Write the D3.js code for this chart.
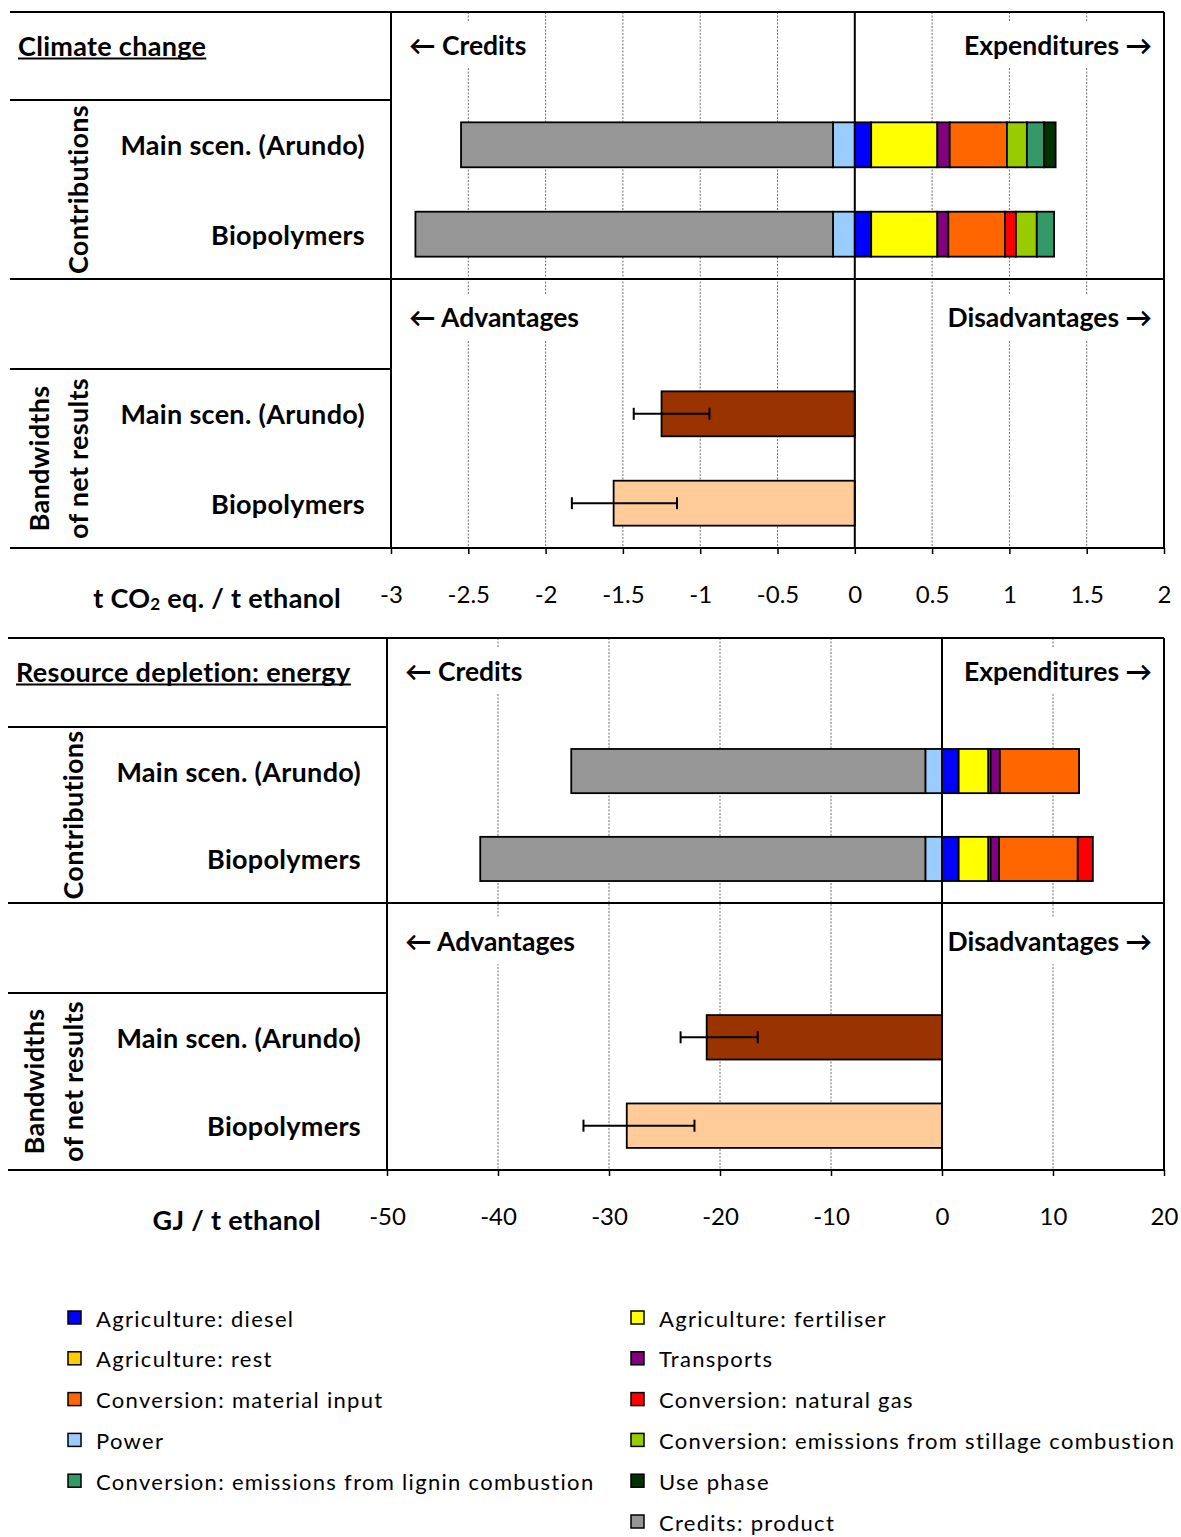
<!DOCTYPE html>
<html>
<head>
<meta charset="utf-8">
<script src="https://cdn.jsdelivr.net/npm/d3@7"></script>
<style>
  body { margin: 0; background: #fff; }
  svg { display: block; }
  text { font-family: Lato, "Open Sans", sans-serif; fill: #000; }
</style>
</head>
<body>
<svg id="chart" width="1181" height="1537"></svg>
<script>
// ---- data ----
const seriesNames = [
  "Agriculture: diesel",
  "Agriculture: fertiliser",
  "Agriculture: rest",
  "Transports",
  "Conversion: material input",
  "Conversion: natural gas",
  "Power",
  "Conversion: emissions from stillage combustion",
  "Conversion: emissions from lignin combustion",
  "Use phase",
  "Credits: product"
];
const seriesColors = [
  "#0000FF", "#FFFF00", "#FFCC00", "#800080", "#FF6600", "#FF0000",
  "#99CCFF", "#99CC00", "#339966", "#003300", "#969696"
];
const scenarios = ["Main scen. (Arundo)", "Biopolymers"];
const netColors = ["#993300", "#FFCC99"];

// Climate change, t CO2 eq. / t ethanol (same order as seriesNames)
const climateMain = [0.106, 0.428, 0, 0.08, 0.37, 0, -0.141, 0.129, 0.112, 0.074, -2.406];
const climateBio  = [0.106, 0.428, 0, 0.071, 0.366, 0.071, -0.141, 0.135, 0.112, 0, -2.701];
const climateNet     = [-1.25, -1.56];
const climateNetLow  = [-1.43, -1.83];
const climateNetHigh = [-0.94, -1.15];
const climateTicks = [-3, -2.5, -2, -1.5, -1, -0.5, 0, 0.5, 1, 1.5, 2];

// Resource depletion: energy, GJ / t ethanol
const energyMain = [1.5, 2.68, 0.2, 0.83, 7.14, 0, -1.5, 0, 0, 0, -31.9];
const energyBio  = [1.5, 2.68, 0.2, 0.76, 7.09, 1.36, -1.5, 0, 0, 0, -40.1];
const energyNet     = [-21.2, -28.4];
const energyNetLow  = [-23.55, -32.3];
const energyNetHigh = [-16.6, -22.3];
const energyTicks = [-50, -40, -30, -20, -10, 0, 10, 20];

// legend laid out in two columns, row by row; null leaves a slot empty
const legendOrder = [
  "Agriculture: diesel", "Agriculture: fertiliser",
  "Agriculture: rest", "Transports",
  "Conversion: material input", "Conversion: natural gas",
  "Power", "Conversion: emissions from stillage combustion",
  "Conversion: emissions from lignin combustion", "Use phase",
  null, "Credits: product"
];

// ---- drawing ----
const svg = d3.select("#chart");
const color = d3.scaleOrdinal().domain(seriesNames).range(seriesColors);
const BOLD = 27, BOLD_LS = 0.3;

function boldText(sel) {
  return sel.attr("font-size", BOLD).attr("font-weight", 700).attr("letter-spacing", BOLD_LS);
}

function labelWithBackground(g, text, x, y, anchor) {
  const t = g.append("text")
    .attr("x", x).attr("y", y)
    .attr("text-anchor", anchor)
    .attr("dominant-baseline", "central")
    .attr("font-size", 26.5).attr("font-weight", 700)
    .text(text);
  const b = t.node().getBBox();
  g.insert("rect", () => t.node())
    .attr("x", b.x - 5).attr("y", b.y - 7)
    .attr("width", b.width + 10).attr("height", b.height + 14)
    .attr("fill", "#fff");
}

function drawPanel(o) {
  const g = svg.append("g");
  const x = d3.scaleLinear().domain([o.ticks[0], o.ticks[o.ticks.length - 1]]).range([o.xPlot, o.xRight]);

  const yContrib = d3.scaleBand().domain(scenarios).range([o.yHead, o.yMid])
    .paddingInner(0.497).paddingOuter(0.25);
  const yNet = d3.scaleBand().domain(scenarios).range([o.yBand, o.yBot])
    .paddingInner(0.497).paddingOuter(0.25);

  // dotted grid
  g.append("g").selectAll("line")
    .data(o.ticks.filter((d, i) => d !== 0 && i > 0 && i < o.ticks.length - 1))
    .join("line")
    .attr("x1", d => x(d)).attr("x2", d => x(d))
    .attr("y1", o.y0).attr("y2", o.yBot)
    .attr("stroke", "#707070").attr("stroke-width", 1)
    .attr("stroke-dasharray", "2,1.5");

  // direction labels
  const hl = g.append("g");
  labelWithBackground(hl, "\u2190 " + o.leftHead[0], o.xPlot + 18, o.y0 + 33, "start");
  labelWithBackground(hl, o.rightHead[0] + " \u2192", o.xRight - 12, o.y0 + 33, "end");
  labelWithBackground(hl, "\u2190 " + o.leftHead[1], o.xPlot + 18, o.yMid + 38, "start");
  labelWithBackground(hl, o.rightHead[1] + " \u2192", o.xRight - 12, o.yMid + 38, "end");

  // stacked contributions
  const rows = scenarios.map((s, i) => {
    const r = { scenario: s };
    seriesNames.forEach((n, k) => { r[n] = o.contrib[i][k]; });
    return r;
  });
  const stacked = d3.stack().keys(seriesNames).offset(d3.stackOffsetDiverging)(rows);
  g.append("g").selectAll("g")
    .data(stacked)
    .join("g")
    .attr("fill", d => color(d.key))
    .selectAll("rect")
    .data(d => d.filter(p => p[1] - p[0] !== 0))
    .join("rect")
    .attr("x", p => x(Math.min(p[0], p[1])))
    .attr("width", p => Math.abs(x(p[1]) - x(p[0])))
    .attr("y", p => yContrib(p.data.scenario))
    .attr("height", yContrib.bandwidth())
    .attr("stroke", "#000").attr("stroke-width", 1.8);

  // net results with bandwidths
  const net = scenarios.map((s, i) => ({ scenario: s, v: o.net[i], lo: o.netLow[i], hi: o.netHigh[i], c: netColors[i] }));
  g.append("g").selectAll("rect")
    .data(net).join("rect")
    .attr("x", d => x(Math.min(0, d.v)))
    .attr("width", d => Math.abs(x(d.v) - x(0)))
    .attr("y", d => yNet(d.scenario))
    .attr("height", yNet.bandwidth())
    .attr("fill", d => d.c)
    .attr("stroke", "#000").attr("stroke-width", 1.8);
  const eb = g.append("g").attr("stroke", "#000").attr("stroke-width", 2);
  net.forEach(d => {
    const cy = yNet(d.scenario) + yNet.bandwidth() / 2;
    eb.append("line").attr("x1", x(d.lo)).attr("x2", x(d.hi)).attr("y1", cy).attr("y2", cy);
    eb.append("line").attr("x1", x(d.lo)).attr("x2", x(d.lo)).attr("y1", cy - 6).attr("y2", cy + 6);
    eb.append("line").attr("x1", x(d.hi)).attr("x2", x(d.hi)).attr("y1", cy - 6).attr("y2", cy + 6);
  });

  // zero line and frame
  const fr = g.append("g").attr("stroke", "#000").attr("stroke-width", 2);
  fr.append("line").attr("x1", x(0)).attr("x2", x(0)).attr("y1", o.y0).attr("y2", o.yBot);
  fr.append("line").attr("x1", o.xPlot).attr("x2", o.xPlot).attr("y1", o.y0).attr("y2", o.yBot);
  fr.append("line").attr("x1", o.xRight).attr("x2", o.xRight).attr("y1", o.y0).attr("y2", o.yBot);
  [[o.y0, o.xRight], [o.yHead, o.xPlot], [o.yMid, o.xRight], [o.yBand, o.xPlot], [o.yBot, o.xRight]]
    .forEach(([yy, xe]) => fr.append("line").attr("x1", o.xLeft).attr("x2", xe).attr("y1", yy).attr("y2", yy));

  // axis
  const ax = g.append("g").attr("transform", `translate(0,${o.yBot})`)
    .call(d3.axisBottom(x).tickValues(o.ticks).tickSizeInner(6).tickSizeOuter(0)
      .tickPadding(32).tickFormat(d => String(d)));
  ax.select(".domain").remove();
  ax.selectAll(".tick line").attr("stroke", "#000").attr("stroke-width", 1.5);
  ax.selectAll(".tick text").attr("font-size", 24).attr("font-family", "Lato, 'Open Sans', sans-serif").attr("fill", "#000");

  // axis title
  o.axisTitle(boldText(g.append("text")
    .attr("x", o.xPlot - o.axisTitleGap).attr("y", o.yBot + 49)
    .attr("text-anchor", "end").attr("dominant-baseline", "central")));

  // panel title, underlined
  const tt = boldText(g.append("text")
    .attr("x", o.xLeft + 8).attr("y", o.y0 + 33)
    .attr("dominant-baseline", "central"))
    .text(o.title);
  const tb = tt.node().getBBox();
  g.append("line").attr("x1", tb.x).attr("x2", tb.x + tb.width)
    .attr("y1", tb.y + tb.height - 3).attr("y2", tb.y + tb.height - 3)
    .attr("stroke", "#000").attr("stroke-width", 1.8);

  // scenario labels
  [yContrib, yNet].forEach(ys => {
    boldText(g.append("g").selectAll("text").data(scenarios).join("text")
      .attr("x", o.xPlot - 26)
      .attr("y", d => ys(d) + ys.bandwidth() / 2)
      .attr("text-anchor", "end").attr("dominant-baseline", "central"))
      .text(d => d);
  });

  // rotated section labels
  const rot = (txt, cx, cy) => boldText(g.append("text")
    .attr("transform", `translate(${cx},${cy}) rotate(-90)`)
    .attr("text-anchor", "middle").attr("dominant-baseline", "central"))
    .text(txt);
  rot("Contributions", o.xLeft + o.rotX2, (o.yHead + o.yMid) / 2);
  rot("Bandwidths", o.xLeft + o.rotX1, (o.yBand + o.yBot) / 2);
  rot("of net results", o.xLeft + o.rotX2, (o.yBand + o.yBot) / 2);
}

drawPanel({
  y0: 12, yHead: 100, yMid: 279, yBand: 369, yBot: 548,
  xLeft: 10, xPlot: 391, xRight: 1164,
  rotX1: 28, rotX2: 67,
  ticks: climateTicks,
  contrib: [climateMain, climateBio],
  net: climateNet, netLow: climateNetLow, netHigh: climateNetHigh,
  title: "Climate change",
  leftHead: ["Credits", "Advantages"],
  rightHead: ["Expenditures", "Disadvantages"],
  axisTitleGap: 50,
  axisTitle: t => {
    t.append("tspan").text("t CO");
    t.append("tspan").attr("font-size", 17).attr("dy", 6).text("2");
    t.append("tspan").attr("dy", -6).text(" eq. / t ethanol");
  }
});

drawPanel({
  y0: 638, yHead: 727, yMid: 903, yBand: 993, yBot: 1170,
  xLeft: 8, xPlot: 387, xRight: 1164,
  rotX1: 25, rotX2: 64,
  ticks: energyTicks,
  contrib: [energyMain, energyBio],
  net: energyNet, netLow: energyNetLow, netHigh: energyNetHigh,
  title: "Resource depletion: energy",
  leftHead: ["Credits", "Advantages"],
  rightHead: ["Expenditures", "Disadvantages"],
  axisTitleGap: 66,
  axisTitle: t => t.text("GJ / t ethanol")
});

// legend
const lg = svg.append("g");
const legendRowY = d3.scaleLinear().domain([0, 5]).range([1318, 1522]);
const legendColX = [68, 631];
legendOrder.forEach((name, i) => {
  if (!name) return;
  const row = Math.floor(i / 2), col = i % 2;
  const cy = legendRowY(row);
  lg.append("rect")
    .attr("x", legendColX[col]).attr("y", cy - 7)
    .attr("width", 13).attr("height", 13)
    .attr("fill", color(name)).attr("stroke", "#000").attr("stroke-width", 1.5);
  lg.append("text")
    .attr("x", legendColX[col] + 28).attr("y", cy)
    .attr("dominant-baseline", "central")
    .attr("font-size", 22).attr("letter-spacing", 1.3)
    .text(name);
});
</script>
</body>
</html>
